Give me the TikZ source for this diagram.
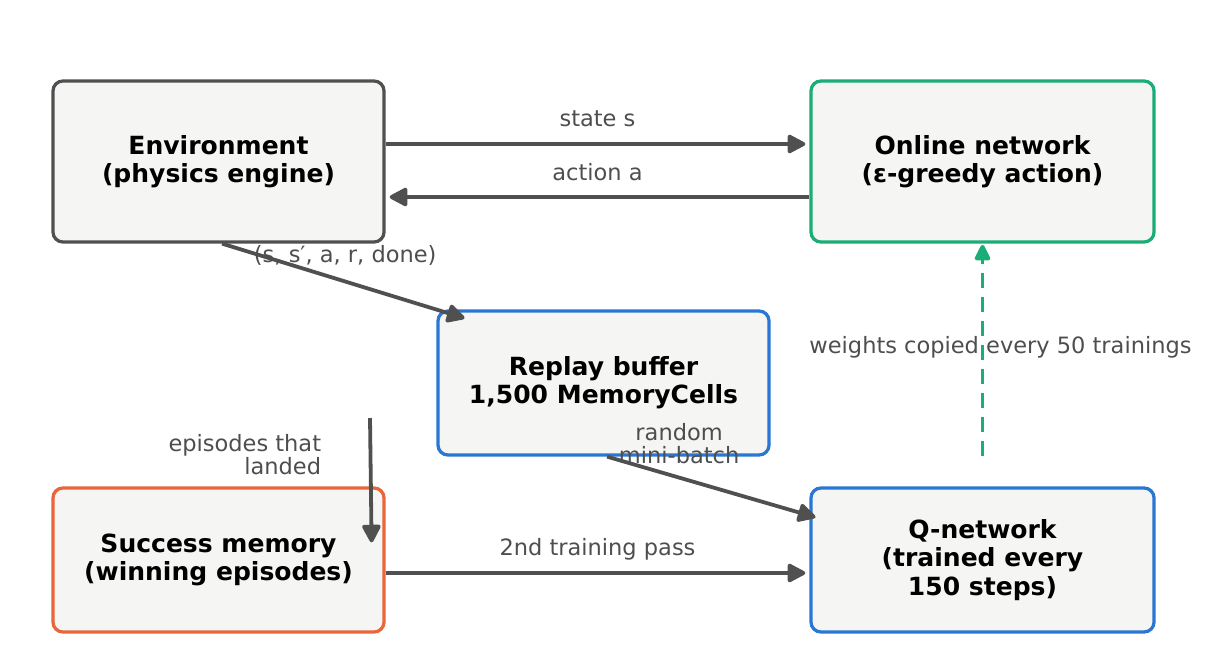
\documentclass[tikz,border=0pt]{standalone}
\usepackage{fontspec}
\setmainfont{DejaVu Sans}
\usetikzlibrary{arrows.meta}
\usetikzlibrary{positioning}
\usetikzlibrary{calc}

\definecolor{edgegray}{RGB}{80,80,80}
\definecolor{labelgray}{RGB}{78,78,78}
\definecolor{boxfill}{RGB}{245,245,243}
\definecolor{netgreen}{RGB}{26,173,120}
\definecolor{netblue}{RGB}{42,118,212}
\definecolor{memorange}{RGB}{232,102,58}

\begin{document}
\begin{tikzpicture}[x=0.025cm, y=-0.025cm,
    block/.style={draw, line width=2.3pt, rounded corners=0.25cm, fill=boxfill,
        align=center, text=black, font=\fontsize{17.8}{20}\selectfont\bfseries},
    flow/.style={edgegray, line width=2.7pt, shorten >=0.1cm,
        -{Triangle[length=0.5cm, width=0.5cm, round]}},
    copyflow/.style={netgreen, line width=2.7pt, dash pattern=on 0.375cm off 0.225cm,
        -{Triangle[length=0.45cm, width=0.42cm, round]}},
    lbl/.style={text=labelgray, inner sep=0pt, align=center,
        font=\fontsize{16}{16.5}\selectfont}]

            \useasboundingbox (0,0) rectangle (1209,660);

            % Boxes
            \node[block, draw=edgegray, minimum width=8.275cm, minimum height=4.025cm]
                (env) at (218.5,161.5) {Environment\\(physics engine)};
            \node[block, draw=netgreen, minimum width=8.575cm, minimum height=4.025cm]
                (online) at (982.5,161.5) {Online network\\(ε-greedy action)};
            \node[block, draw=netblue, minimum width=8.275cm, minimum height=3.6cm]
                (replay) at (603.5,383) {Replay buffer\\1,500 MemoryCells};
            \node[block, draw=memorange, minimum width=8.275cm, minimum height=3.6cm]
                (success) at (218.5,560) {Success memory\\(winning episodes)};
            \node[block, draw=netblue, minimum width=8.575cm, minimum height=3.6cm]
                (qnet) at (982.5,560) {Q-network\\(trained every\\150 steps)};

            % Free ends
            \coordinate (intoreplay) at ([xshift=0.8cm, yshift=-0.25cm]replay.north west);
            \coordinate (intoq) at ([xshift=0.25cm, yshift=-0.8cm]qnet.north west);
            \coordinate (landedtop) at (370,418);
            \coordinate (intosuccess) at ([xshift=-0.35cm, yshift=-1.5cm]success.north east);
            \coordinate (copystart) at ([yshift=0.75cm]qnet.north);
            \coordinate (copyend) at ([yshift=-0.03cm]online.south);

            % Interaction loop
            \draw[flow] ([yshift=0.4375cm]env.east) -- ([yshift=0.4375cm]online.west)
                node[lbl, midway, yshift=0.625cm] {state s};
            \draw[flow] ([yshift=-0.8875cm]online.west) -- ([yshift=-0.8875cm]env.east)
                node[lbl, midway, yshift=0.625cm] {action a};

            % Transitions into the buffer
            \draw[flow] ([xshift=0.09cm]env.south) -- (intoreplay)
                node[lbl, midway, yshift=0.65cm] {(s, s′, a, r, done)};
            \draw[flow] ([xshift=0.09cm]replay.south) -- (intoq)
                node[lbl, pos=0, xshift=1.8cm, yshift=0.325cm] {random\\mini-batch};

            % Success episodes
            \draw[flow] (landedtop) -- (intosuccess)
                node[lbl, pos=0, anchor=north east, align=right, xshift=-1.175cm, yshift=-0.36cm]
                {episodes that\\landed};
            \draw[flow] ([yshift=-0.325cm]success.east) -- ([yshift=-0.325cm]qnet.west)
                node[lbl, midway, yshift=0.6cm] {2nd training pass};

            % Target copy
            \draw[copyflow] (copystart) -- (copyend)
                node[lbl, midway, xshift=0.45cm, yshift=0.075cm] {weights copied every 50 trainings};

\end{tikzpicture}
\end{document}
